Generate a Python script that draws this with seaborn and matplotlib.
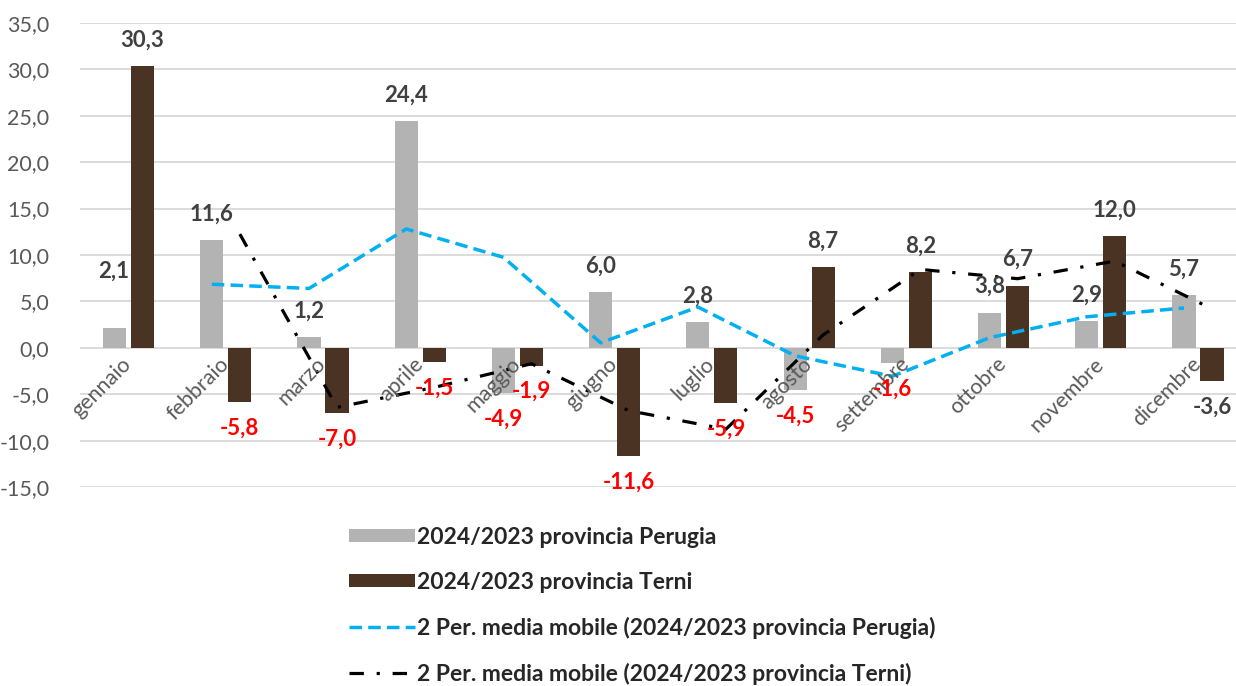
import numpy as np
import pandas as pd
import matplotlib
matplotlib.use("Agg")
import matplotlib.pyplot as plt
import seaborn as sns
from matplotlib.patches import Patch
from matplotlib.lines import Line2D
from matplotlib.ticker import FuncFormatter

# dati
mesi = ["gennaio", "febbraio", "marzo", "aprile", "maggio", "giugno",
        "luglio", "agosto", "settembre", "ottobre", "novembre", "dicembre"]
perugia = [2.1, 11.6, 1.2, 24.4, -4.9, 6.0, 2.8, -4.5, -1.6, 3.8, 2.9, 5.7]
terni = [30.3, -5.8, -7.0, -1.5, -1.9, -11.6, -5.9, 8.7, 8.2, 6.7, 12.0, -3.6]

lab_pg = "2024/2023 provincia Perugia"
lab_tr = "2024/2023 provincia Terni"
lab_ma_pg = "2 Per. media mobile (2024/2023 provincia Perugia)"
lab_ma_tr = "2 Per. media mobile (2024/2023 provincia Terni)"

# media mobile a 2 periodi (come la linea di tendenza di Excel)
ma_pg = pd.Series(perugia).rolling(2).mean()
ma_tr = pd.Series(terni).rolling(2).mean()

df = pd.DataFrame({
    "mese": mesi * 2,
    "serie": [lab_pg] * 12 + [lab_tr] * 12,
    "valore": perugia + terni,
})

C_PG = "#b3b3b3"
C_TR = "#4a3322"
C_BLUE = "#00b0f0"
C_TXT = "#595959"
C_LAB = "#404040"
FS = 15.5

sns.set_theme(style="white")
plt.rcParams["font.family"] = ["Lato", "DejaVu Sans"]

fig = plt.figure(figsize=(12.36, 6.86), dpi=100)
ax = fig.add_axes([80 / 1236, 198.7 / 686, 1166.6 / 1236, 464.6 / 686])

sns.barplot(data=df, x="mese", y="valore", hue="serie", order=mesi,
            hue_order=[lab_pg, lab_tr], palette=[C_PG, C_TR],
            width=0.576, gap=0.174, linewidth=0, saturation=1,
            legend=False, ax=ax)

off = 0.144
pos = np.arange(len(mesi))

sns.lineplot(x=pos[1:] - off, y=ma_pg[1:], color=C_BLUE, lw=2.5,
             linestyle=(0, (3.6, 1.8)), ax=ax)
sns.lineplot(x=pos[1:] + off, y=ma_tr[1:], color="black", lw=2.3,
             linestyle=(0, (4.5, 4, 1, 4)), ax=ax)

ax.set_ylim(-15, 35)
ax.set_xlim(-0.5, 11.5)
ax.set_yticks(np.arange(-15, 36, 5))
ax.yaxis.set_major_formatter(FuncFormatter(lambda v, p: f"{v:.1f}".replace(".", ",")))
ax.tick_params(axis="y", labelsize=FS, labelcolor=C_TXT, length=0, pad=22)
ax.set_xticks([])
ax.set_xlabel("")
ax.set_ylabel("")
ax.grid(axis="y", color="#d9d9d9", lw=1.3)
ax.set_axisbelow(True)
for s in ax.spines.values():
    s.set_visible(False)

# etichette dei mesi, ruotate, appoggiate sulla linea dello zero
for i, m in enumerate(mesi):
    ax.annotate(m, (i + 0.07, 0), xytext=(0, -6), textcoords="offset pixels",
                rotation=45, ha="right", va="top", fontsize=FS, color=C_TXT)

# etichette dei valori
def fmt(v):
    return f"{v:.1f}".replace(".", ",")

for serie, vals, sgn in [("pg", perugia, -1), ("tr", terni, 1)]:
    for i, v in enumerate(vals):
        col = "#ff0000" if v < 0 else C_LAB
        if serie == "tr" and i == 11:
            col = C_LAB
        dy = 26 if v >= 0 else -26
        dx = 0
        if serie == "pg" and i == 0:
            dx, dy = -1, 57
        ax.annotate(fmt(v), (i + sgn * off, v), xytext=(dx, dy),
                    textcoords="offset pixels", ha="center", va="center",
                    fontsize=16, fontweight="bold", color=col)

handles = [
    Patch(facecolor=C_PG, edgecolor="none"),
    Patch(facecolor=C_TR, edgecolor="none"),
    Line2D([], [], color=C_BLUE, lw=2.5, linestyle=(0, (3.6, 1.8))),
    Line2D([], [], color="black", lw=2.3, linestyle=(0, (4.5, 4, 1, 4))),
]
fig.legend(handles, [lab_pg, lab_tr, lab_ma_pg, lab_ma_tr],
           loc="upper left", bbox_to_anchor=(328 / 1236, 1 - 506 / 686),
           frameon=False, handlelength=2.9, handleheight=0.55,
           handletextpad=0.1, labelspacing=1.05,
           prop={"size": 16.5, "weight": "bold"}, labelcolor="#262626")

fig.savefig("out.png", dpi=100)
